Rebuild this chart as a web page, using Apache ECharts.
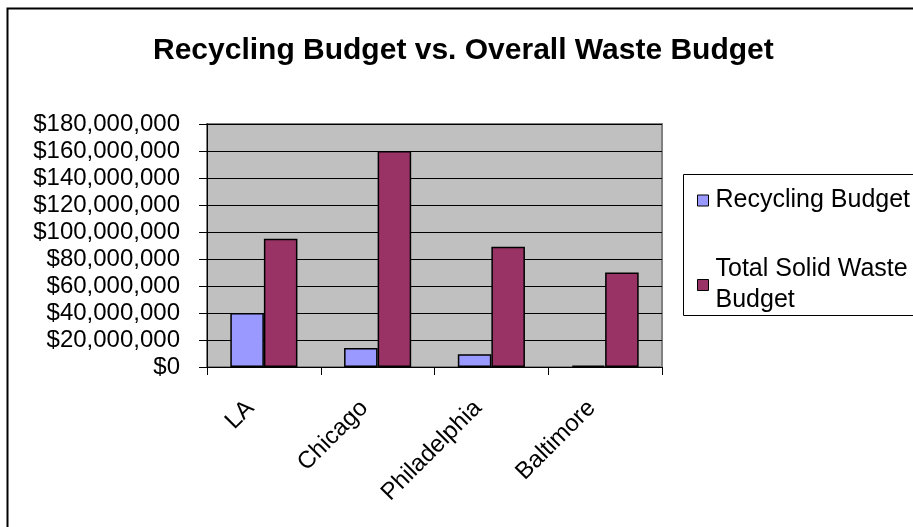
<!DOCTYPE html>
<html><head><meta charset="utf-8">
<script src="https://cdn.jsdelivr.net/npm/echarts@6/dist/echarts.min.js"></script>
<style>html,body{margin:0;padding:0;background:#fff}#c{width:913px;height:527px}</style>
</head><body><div id="c"></div>
<script>
const categories = ['LA', 'Chicago', 'Philadelphia', 'Baltimore'];
const recyclingBudget = [40000000, 14000000, 9500000, 1000000];
const totalSolidWasteBudget = [95000000, 160000000, 89000000, 70000000];
const seriesNames = ['Recycling Budget', 'Total Solid Waste Budget'];
const yMin = 0, yMax = 180000000, yStep = 20000000;

function money(v){ return '$' + String(Math.round(v)).replace(/\B(?=(\d{3})+(?!\d))/g, ','); }

const chart = echarts.init(document.getElementById('c'), null, {renderer:'canvas'});
const font = 'Arial, "Liberation Sans", sans-serif';
chart.setOption({
  animation: false,
  backgroundColor: '#fff',
  textStyle: {fontFamily: font},
  title: {
    text: 'Recycling Budget vs. Overall Waste Budget',
    left: 148, top: 31,
    textStyle: {fontFamily: font, fontSize: 30, fontWeight: 'bold', color: '#000'}
  },
  graphic: [
    {type:'rect', shape:{x:7.5, y:8.5, width:1000, height:1000}, style:{fill:'none', stroke:'#000', lineWidth:2}, silent:true},
    {type:'rect', shape:{x:683.5, y:174.5, width:300, height:141}, style:{fill:'#fff', stroke:'#000', lineWidth:1}, silent:true, z:-1}
  ],
  legend: {
    orient: 'vertical', left: 692, top: 180,
    itemWidth: 11, itemHeight: 11, itemGap: 38, icon: 'rect',
    data: seriesNames,
    formatter: n => n === 'Total Solid Waste Budget' ? 'Total Solid Waste\nBudget' : n,
    textStyle: {fontFamily: font, fontSize: 25, color:'#000', lineHeight: 31, padding:[0,0,0,2]},
    itemStyle: {borderColor:'#000', borderWidth:1}
  },
  grid: {left: 207, right: 251, top: 124, bottom: 160, show: true, backgroundColor: '#C0C0C0', borderColor: '#808080', borderWidth: 2},
  xAxis: {
    type: 'category', data: categories,
    axisLine: {lineStyle:{color:'#000', width:1}},
    axisTick: {show:true, length:8, lineStyle:{color:'#000'}},
    axisLabel: {rotate: 45, margin: 24, fontSize: 24, color:'#000', fontFamily: font, padding:[0,19,0,0]}
  },
  yAxis: {
    type: 'value', min: yMin, max: yMax, interval: yStep,
    axisLine: {show:true, lineStyle:{color:'#000', width:1}},
    axisTick: {show:true, length:8, lineStyle:{color:'#000'}},
    splitLine: {show:true, lineStyle:{color:'#000', width:1}},
    axisLabel: {formatter: money, fontSize: 24, color:'#000', margin: 27, fontFamily: font}
  },
  series: [
    {name: seriesNames[0], type:'bar', data: recyclingBudget, barGap: '0%', barCategoryGap: '41%',
     itemStyle:{color:'#9999FF', borderColor:'#000', borderWidth:1.5}},
    {name: seriesNames[1], type:'bar', data: totalSolidWasteBudget, barGap: '0%', barCategoryGap: '41%',
     itemStyle:{color:'#993366', borderColor:'#000', borderWidth:1.5}}
  ]
});
</script></body></html>
